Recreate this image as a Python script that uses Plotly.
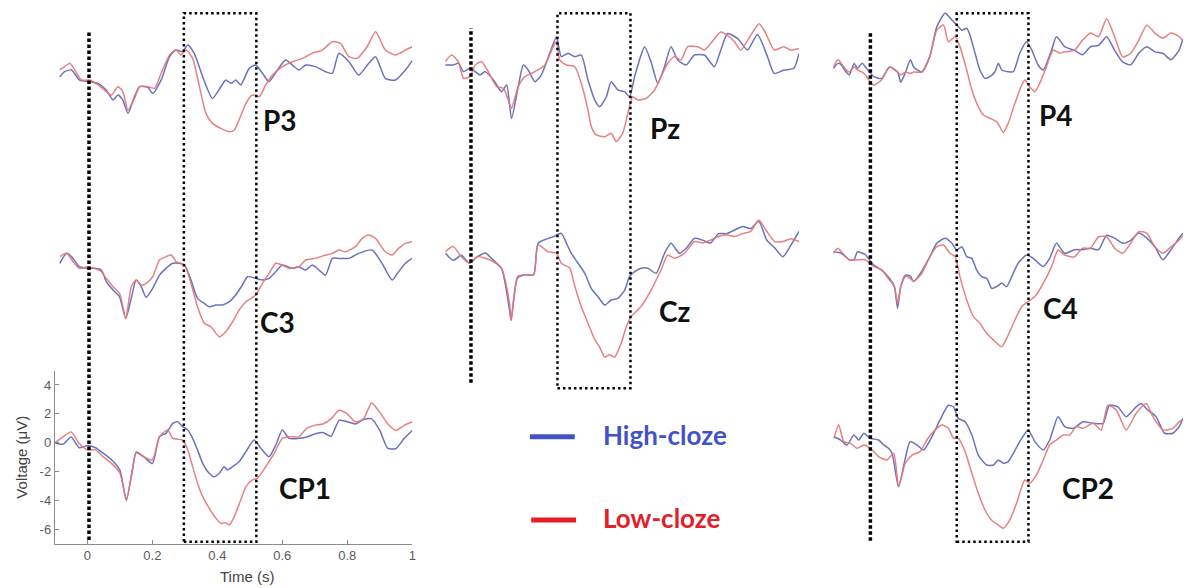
import plotly.graph_objects as go

# ---------------- data (time in s, voltage in µV) ----------------
P3_t_high = [-0.085,-0.07,-0.049,-0.024,0.007,0.033,0.058,0.079,0.094,0.109,0.125,0.145,0.161,0.186,0.201,0.227,0.253,0.273,0.293,0.309,0.329,0.355,0.385,0.411,0.426,0.442,0.457,0.472,0.498,0.518,0.539,0.559,0.585,0.61,0.631,0.651,0.672,0.702,0.733,0.754,0.774,0.805,0.835,0.866,0.887,0.917,0.948,0.979,1.0]
P3_high = [-0.12,0.23,0.35,-0.35,-0.46,-0.58,-1.04,-1.73,-1.39,-1.73,-2.66,-1.5,-0.81,-0.85,-1.27,-0.35,1.27,1.73,1.62,2.08,1.5,-0.12,-1.62,-0.81,-0.35,-0.58,-0.35,-0.69,0.46,0.69,0.12,-0.46,0.35,1.04,0.69,0.35,0.69,0.58,0.23,0.12,1.5,0.92,0.0,0.81,1.27,-0.23,-0.35,0.35,1.0]
P3_t_low = [-0.085,-0.07,-0.054,-0.039,-0.018,0.007,0.033,0.058,0.074,0.094,0.109,0.125,0.145,0.161,0.186,0.207,0.227,0.253,0.273,0.288,0.304,0.324,0.345,0.365,0.385,0.411,0.437,0.452,0.467,0.488,0.508,0.529,0.549,0.57,0.6,0.631,0.662,0.692,0.723,0.754,0.779,0.805,0.83,0.861,0.887,0.917,0.948,0.979,1.0]
P3_low = [0.35,0.58,0.81,0.35,-0.35,-0.35,-0.69,-1.15,-1.39,-0.81,-1.15,-2.42,-1.62,-0.81,-0.81,-0.92,0.12,1.39,1.73,1.39,1.73,1.15,-0.81,-2.66,-3.35,-3.7,-3.93,-3.81,-3.12,-1.96,-1.39,-1.5,-0.69,0.0,0.58,0.92,1.15,1.5,1.73,2.31,2.19,1.27,1.15,1.96,3.0,1.73,1.39,1.73,1.96]

C3_t_high = [-0.085,-0.064,-0.049,-0.024,0.002,0.022,0.043,0.058,0.079,0.099,0.118,0.135,0.15,0.166,0.181,0.201,0.222,0.242,0.263,0.283,0.299,0.319,0.339,0.36,0.375,0.396,0.416,0.437,0.457,0.477,0.493,0.518,0.539,0.559,0.58,0.6,0.631,0.651,0.672,0.692,0.713,0.733,0.754,0.774,0.805,0.835,0.876,0.907,0.938,0.958,0.979,0.999]
C3_high = [-0.18,0.51,0.28,-0.42,-0.53,-0.53,-0.65,-1.45,-2.03,-2.5,-4.0,-2.61,-1.34,-1.8,-2.54,-1.92,-1.0,-0.53,-0.18,-0.18,-0.3,-1.34,-2.61,-2.96,-3.19,-3.07,-3.07,-2.84,-2.36,-1.69,-1.11,-1.22,-1.34,-1.22,-0.76,-0.3,-0.53,-0.42,-0.65,-0.3,-0.65,-1.0,0.16,0.16,0.16,0.51,0.74,-0.18,-1.34,-0.76,-0.18,0.16]
C3_t_low = [-0.085,-0.064,-0.044,-0.024,0.002,0.022,0.043,0.058,0.079,0.099,0.118,0.135,0.15,0.166,0.181,0.201,0.222,0.242,0.258,0.273,0.299,0.319,0.339,0.36,0.38,0.406,0.426,0.447,0.467,0.488,0.518,0.539,0.559,0.58,0.6,0.621,0.651,0.672,0.702,0.733,0.754,0.774,0.794,0.825,0.846,0.866,0.887,0.917,0.938,0.958,0.979,0.999]
C3_low = [0.28,0.51,-0.07,-0.53,-0.42,-0.53,-0.76,-1.22,-1.8,-2.27,-4.0,-1.8,-1.34,-1.69,-1.57,-1.11,0.05,0.28,0.39,-0.07,-0.3,-1.57,-3.19,-4.34,-4.57,-5.27,-4.92,-4.23,-3.42,-2.84,-2.38,-1.57,-0.88,-0.18,-0.3,-0.53,-0.42,0.05,0.16,0.39,0.51,0.74,0.62,0.97,1.55,1.78,1.55,0.62,0.39,0.85,1.2,1.32]

CP1_t_high = [-0.1,-0.075,-0.05,-0.025,0,0.025,0.05,0.075,0.1,0.12,0.14,0.15,0.175,0.2,0.222,0.242,0.263,0.278,0.293,0.309,0.324,0.339,0.355,0.375,0.39,0.406,0.421,0.431,0.447,0.467,0.488,0.513,0.534,0.559,0.58,0.6,0.621,0.65,0.675,0.7,0.725,0.75,0.775,0.8,0.825,0.85,0.875,0.9,0.925,0.95,0.975,1.0]
CP1_high = [0,-0.1,0.4,-0.35,-0.2,-0.35,-0.75,-1.2,-1.9,-4.0,-1.7,-0.65,-1.0,-1.45,0.42,0.65,1.34,1.46,1.11,0.88,0.3,-0.51,-1.43,-2.12,-2.36,-2.12,-1.66,-1.89,-1.66,-1.32,-0.62,0.19,-0.39,-0.97,-0.16,0.88,0.3,0.3,0.4,0.6,0.7,0.45,1.55,1.45,1.3,1.6,1.65,0.85,-0.4,-0.4,0.3,0.85]
CP1_t_low = [-0.1,-0.075,-0.05,-0.025,0,0.025,0.05,0.075,0.1,0.12,0.14,0.15,0.175,0.2,0.222,0.247,0.263,0.293,0.309,0.324,0.339,0.355,0.375,0.396,0.411,0.426,0.437,0.452,0.472,0.488,0.508,0.523,0.549,0.575,0.6,0.621,0.65,0.675,0.7,0.725,0.75,0.775,0.8,0.825,0.85,0.875,0.9,0.925,0.95,0.975,1.0]
CP1_low = [0,0.4,0.75,-0.05,-0.5,-0.5,-1.0,-1.45,-2.1,-3.9,-1.7,-0.7,-1.0,-1.2,0.42,0.88,0.3,0.19,-0.51,-1.66,-2.81,-3.74,-4.55,-5.24,-5.59,-5.54,-5.7,-5.13,-3.97,-3.05,-2.58,-2.47,-1.66,-0.74,0.3,0.42,0.4,1.0,1.2,1.3,1.65,2.25,2.0,1.45,1.65,2.75,2.1,1.3,0.85,1.2,1.45]

Pz_t_high = [-0.1,-0.074,-0.059,-0.043,-0.023,-0.007,0.008,0.024,0.05,0.075,0.091,0.106,0.127,0.143,0.158,0.179,0.199,0.225,0.246,0.261,0.282,0.303,0.323,0.344,0.365,0.38,0.401,0.416,0.437,0.458,0.473,0.489,0.504,0.52,0.54,0.561,0.582,0.602,0.623,0.649,0.675,0.706,0.737,0.757,0.778,0.809,0.84,0.871,0.902,0.923,0.953,0.984,1.0]
Pz_high = [0.07,0.07,0.19,-0.39,-0.16,-0.39,-0.62,-0.39,-0.97,-1.78,-1.32,-3.63,-1.43,0.07,-0.28,-1.09,-0.62,0.88,2.03,0.65,0.88,0.65,0.76,-0.97,-2.36,-2.82,-2.13,-1.09,-1.66,-1.78,-2.13,-0.74,0.42,1.34,0.3,-1.2,-0.05,1.34,0.42,0.07,0.76,0.76,-0.05,1.11,2.25,1.91,1.11,2.19,0.65,-0.51,-0.28,-0.16,0.88]
Pz_t_low = [-0.1,-0.08,-0.059,-0.043,-0.023,-0.007,0.013,0.034,0.06,0.081,0.096,0.106,0.127,0.148,0.179,0.21,0.236,0.246,0.256,0.277,0.303,0.323,0.344,0.354,0.37,0.396,0.416,0.432,0.452,0.468,0.483,0.499,0.525,0.551,0.571,0.592,0.613,0.633,0.654,0.685,0.706,0.726,0.757,0.778,0.799,0.819,0.85,0.876,0.897,0.923,0.953,0.974,1.0]
Pz_low = [0.3,0.76,0.3,-0.85,-0.74,0.07,0.3,-0.39,-1.43,-1.55,-2.36,-2.93,-1.43,-0.74,-0.39,0.07,1.34,1.69,0.42,0.07,-0.05,-1.2,-3.05,-4.2,-4.78,-4.9,-4.66,-5.24,-4.66,-3.28,-2.13,-2.36,-2.24,-1.66,-0.74,0.19,0.65,0.42,1.34,1.34,1.11,1.57,2.36,2.13,1.69,1.11,2.13,2.93,2.25,1.11,1.34,1.11,1.22]

Cz_t_high = [-0.1,-0.075,-0.05,-0.025,0,0.025,0.05,0.075,0.1,0.105,0.125,0.15,0.175,0.189,0.236,0.261,0.277,0.292,0.313,0.334,0.354,0.375,0.396,0.416,0.437,0.458,0.473,0.489,0.509,0.53,0.556,0.582,0.602,0.628,0.649,0.675,0.7,0.725,0.75,0.775,0.8,0.825,0.85,0.875,0.9,0.925,0.95,0.975,1.0]
Cz_high = [0.2,-0.3,0.05,-0.5,-0.05,0.2,-0.3,-0.85,-3.75,-4.45,-1.45,-1.3,-1.3,0.88,1.34,1.57,0.88,0.19,-0.5,-1.2,-2.24,-2.82,-3.4,-3.05,-2.93,-2.36,-1.43,-1.09,-0.85,-0.85,-1.2,0.19,0.88,0.19,0.53,1.22,1.1,0.9,1.55,1.55,1.8,2.05,1.9,2.4,1.1,0.55,-0.05,0.75,1.7]
Cz_t_low = [-0.1,-0.075,-0.05,-0.025,0,0.025,0.05,0.075,0.1,0.105,0.125,0.15,0.175,0.189,0.22,0.246,0.261,0.287,0.303,0.323,0.344,0.365,0.38,0.396,0.411,0.427,0.447,0.463,0.478,0.509,0.54,0.571,0.592,0.613,0.644,0.675,0.7,0.725,0.75,0.775,0.8,0.825,0.85,0.875,0.9,0.925,0.95,0.975,1.0]
Cz_low = [0.3,0.65,-0.05,-0.5,-0.05,-0.15,-0.4,-0.85,-3.3,-4.45,-1.55,-1.3,-1.3,0.76,0.3,0.19,-0.5,-0.83,-2.1,-3.5,-4.66,-5.8,-6.3,-7.0,-6.85,-7.0,-6.05,-4.9,-4.2,-3.5,-2.36,-0.97,0.07,-0.16,0.19,1.0,0.9,1.1,1.35,1.45,1.35,1.55,1.7,2.5,1.7,1.0,1.0,1.2,1.0]

P4_t_high = [-0.1,-0.085,-0.075,-0.06,-0.05,-0.035,-0.025,-0.01,0,0.025,0.05,0.075,0.1,0.11,0.125,0.14,0.15,0.175,0.2,0.222,0.248,0.269,0.284,0.3,0.315,0.325,0.341,0.356,0.372,0.387,0.403,0.413,0.424,0.444,0.46,0.48,0.501,0.517,0.537,0.553,0.579,0.594,0.62,0.65,0.675,0.7,0.725,0.75,0.775,0.8,0.825,0.85,0.875,0.9,0.925,0.95,0.975,0.987]
P4_high = [-0.05,0.3,0.2,-0.3,-0.5,0.3,-0.05,0.3,0.05,-0.6,-0.75,0.05,-0.3,-1.0,-0.3,0.55,0.05,-0.3,0.75,2.84,3.77,3.3,2.96,2.6,2.73,2.27,1.0,-0.16,-0.74,-0.62,-0.28,0.3,-0.16,-0.28,-0.28,1.0,1.8,1.23,0.19,-0.16,1.23,2.15,1.46,1.2,0.9,1.45,1.55,2.15,1.2,0.4,0.2,1.0,1.45,1.1,1.0,0.55,1.2,2.0]
P4_t_low = [-0.1,-0.085,-0.075,-0.06,-0.05,-0.035,-0.025,-0.01,0,0.025,0.05,0.075,0.1,0.11,0.125,0.14,0.15,0.175,0.2,0.222,0.243,0.258,0.279,0.294,0.315,0.331,0.351,0.367,0.387,0.408,0.418,0.429,0.444,0.465,0.486,0.496,0.511,0.527,0.542,0.563,0.584,0.604,0.62,0.65,0.675,0.7,0.725,0.75,0.775,0.8,0.825,0.85,0.875,0.9,0.925,0.95,0.975,0.987]
P4_low = [0.05,0.55,0.3,-0.15,-0.3,0.05,-0.15,-0.3,-0.5,-1.2,-0.85,0.05,-0.3,-0.5,-0.3,-0.4,-0.3,-0.3,0.75,2.6,2.96,1.8,2.15,1.46,-0.16,-1.55,-2.7,-3.28,-3.5,-3.74,-4.09,-4.5,-3.85,-2.47,-1.2,-0.85,-1.32,-1.66,-1.08,0.07,1.23,1.0,1.11,1.2,1.9,2.4,2.15,3.4,2.15,0.75,1.0,1.9,2.95,2.4,2.05,2.4,2.15,1.9]

C4_t_high = [-0.1,-0.075,-0.05,-0.035,-0.025,0,0.025,0.05,0.075,0.09,0.1,0.11,0.125,0.14,0.15,0.175,0.2,0.222,0.248,0.269,0.284,0.3,0.315,0.331,0.346,0.362,0.377,0.393,0.408,0.424,0.439,0.455,0.475,0.501,0.522,0.553,0.573,0.594,0.62,0.65,0.675,0.7,0.725,0.75,0.775,0.8,0.825,0.85,0.875,0.9,0.925,0.95,0.975,0.987]
C4_high = [0.1,0,-0.45,-0.45,0.1,-0.1,-0.8,-1.15,-1.75,-2.3,-3.8,-2.3,-1.5,-1.6,-1.95,-1.25,-0.25,0.69,1.04,0.69,0.23,0.46,-0.23,-0.35,-1.16,-1.62,-1.73,-2.43,-2.31,-2.08,-2.31,-1.62,-0.69,-0.12,-0.35,-0.92,-0.35,0.69,0,0.25,0.25,0.35,0.25,1.25,1.05,0.7,0.9,1.4,1.05,0.45,-0.45,0.25,1.05,1.4]
C4_t_low = [-0.1,-0.085,-0.075,-0.05,-0.025,0,0.025,0.05,0.075,0.09,0.1,0.11,0.125,0.14,0.15,0.175,0.2,0.222,0.243,0.263,0.279,0.294,0.315,0.336,0.356,0.377,0.398,0.424,0.444,0.465,0.486,0.506,0.527,0.553,0.579,0.599,0.62,0.65,0.675,0.7,0.725,0.75,0.775,0.8,0.825,0.85,0.875,0.9,0.925,0.95,0.975,0.987]
C4_low = [0,0.35,0.1,-0.45,-0.45,-0.45,-0.9,-1.15,-1.85,-2.3,-3.45,-2.3,-1.6,-1.75,-1.95,-1.4,-0.25,0.46,0.58,0,-0.23,-1.62,-3.24,-4.39,-4.85,-5.54,-6.0,-6.47,-5.66,-4.62,-3.7,-3.35,-3.0,-2.08,-0.92,0.23,-0.12,-0.25,0.35,0.35,1.15,1.15,0.35,0,0.7,1.5,1.4,0.45,0,0.45,0.9,1.25]

CP2_t_high = [-0.098,-0.077,-0.057,-0.036,-0.021,-0.005,0.015,0.041,0.057,0.072,0.083,0.103,0.124,0.139,0.16,0.181,0.207,0.232,0.258,0.274,0.289,0.31,0.331,0.351,0.377,0.398,0.413,0.429,0.444,0.46,0.48,0.506,0.527,0.553,0.573,0.599,0.62,0.646,0.677,0.708,0.739,0.759,0.785,0.811,0.842,0.857,0.878,0.904,0.93,0.956,0.976,0.987]
CP2_high = [0.18,-0.05,-0.39,0.3,-0.05,0.42,0.07,-0.05,-0.39,-0.62,-0.97,-3.28,-1.32,-0.16,-0.39,-0.74,0.18,1.34,2.36,2.25,1.45,1.22,0.3,-1.09,-1.78,-1.78,-1.43,-1.66,-1.55,-0.97,-0.16,0.65,-0.16,-0.74,-0.05,1.57,0.88,0.76,1.22,1.11,1.11,2.36,2.25,1.57,2.25,2.48,2.03,1.57,0.42,0.42,0.88,1.45]
CP2_t_low = [-0.098,-0.083,-0.067,-0.046,-0.026,-0.005,0.015,0.041,0.067,0.088,0.103,0.124,0.145,0.17,0.191,0.217,0.238,0.258,0.274,0.289,0.31,0.331,0.351,0.372,0.392,0.413,0.429,0.449,0.47,0.496,0.511,0.532,0.553,0.573,0.594,0.615,0.635,0.656,0.677,0.708,0.733,0.754,0.78,0.811,0.842,0.873,0.894,0.925,0.956,0.976,0.987]
CP2_low = [0.07,0.99,-0.16,-0.28,-0.62,-0.39,-0.62,-1.2,-1.43,-0.97,-3.28,-1.66,-1.09,-0.85,-0.05,0.65,0.99,0.76,0.07,0.07,-0.85,-2.36,-3.74,-4.9,-5.59,-5.94,-6.17,-5.59,-4.43,-2.82,-3.05,-2.47,-1.43,-0.39,-0.05,0.3,0.3,0.88,0.76,1.11,0.65,2.36,2.03,0.65,1.8,2.48,1.57,0.65,0.76,1.22,1.34]

# window markers per column: stimulus onset and N400 window (s)
ONSET = [0.005, -0.02, 0.0155]
WIN_START = [0.297, 0.249, 0.284]
WIN_END = [0.52, 0.476, 0.507]

LEGEND_NAMES = ["High-cloze", "Low-cloze"]
X_TICKS = [0, 0.2, 0.4, 0.6, 0.8, 1]
X_TICKTEXT = ["0", "0.2", "0.4", "0.6", "0.8", "1"]
Y_TICKS = [-6, -4, -2, 0, 2, 4]
Y_TICKTEXT = ["-6", "-4", "-2", "0", "2", "4"]

# ---------------- layout geometry (pixels) ----------------
W, H = 1187, 588
PXUV = 14.43
COLS = [dict(px0=87.67, pps=326.0), dict(px0=479.0, pps=322.67), dict(px0=868.33, pps=322.67)]
PANELS = [
    dict(name="P3", col=0, base=75.0, th=P3_t_high, h=P3_high, tl=P3_t_low, l=P3_low, lab=(281, 120)),
    dict(name="C3", col=0, base=260.7, th=C3_t_high, h=C3_high, tl=C3_t_low, l=C3_low, lab=(278, 322)),
    dict(name="CP1", col=0, base=442.7, th=CP1_t_high, h=CP1_high, tl=CP1_t_low, l=CP1_low, lab=(306, 488)),
    dict(name="Pz", col=1, base=66.0, th=Pz_t_high, h=Pz_high, tl=Pz_t_low, l=Pz_low, lab=(667, 128)),
    dict(name="Cz", col=1, base=256.0, th=Cz_t_high, h=Cz_high, tl=Cz_t_low, l=Cz_low, lab=(677, 311)),
    dict(name="P4", col=2, base=67.7, th=P4_t_high, h=P4_high, tl=P4_t_low, l=P4_low, lab=(1060, 115)),
    dict(name="C4", col=2, base=253.3, th=C4_t_high, h=C4_high, tl=C4_t_low, l=C4_low, lab=(1064, 308)),
    dict(name="CP2", col=2, base=439.3, th=CP2_t_high, h=CP2_high, tl=CP2_t_low, l=CP2_low, lab=(1092, 488)),
]
BLUE = "rgba(92,102,186,0.92)"
RED = "rgba(228,118,118,0.92)"

def px2py(p):
    return 1 - p / H

fig = go.Figure()
layout = dict(width=W, height=H, margin=dict(l=0, r=0, t=0, b=0),
              paper_bgcolor="white", plot_bgcolor="rgba(0,0,0,0)", showlegend=False)
col_xref = {}
annotations = []
shapes = []
for i, p in enumerate(PANELS, start=1):
    sfx = "" if i == 1 else str(i)
    c = COLS[p["col"]]
    tmax = min(1.0, (W - c["px0"]) / c["pps"])
    xd0 = (c["px0"] - 0.1 * c["pps"]) / W
    xd1 = min(1.0, (c["px0"] + tmax * c["pps"]) / W)
    if p["name"] == "CP1":
        ylo, yhi = -7, 5
    else:
        ylo, yhi = -8, min(6, p["base"] / PXUV - 0.01)
    yd0 = max(0.0, px2py(p["base"] - ylo * PXUV))
    yd1 = min(1.0, px2py(p["base"] - yhi * PXUV))
    show = p["name"] == "CP1"
    xa = dict(domain=[xd0, xd1], range=[-0.1, tmax], anchor="y" + sfx, showgrid=False, zeroline=False,
              visible=show)
    ya = dict(domain=[yd0, yd1], range=[ylo, yhi], anchor="x" + sfx, showgrid=False, zeroline=False,
              visible=show)
    if show:
        axfont = dict(family="Liberation Sans, Arial, sans-serif", size=13, color="#5a5a5a")
        xa.update(showline=True, linecolor="#8c8c8c", linewidth=1.2, ticks="inside", ticklen=4,
                  tickcolor="#8c8c8c", tickvals=X_TICKS, ticktext=X_TICKTEXT, tickfont=axfont)
        ya.update(showline=True, linecolor="#8c8c8c", linewidth=1.2, ticks="inside", ticklen=4,
                  tickcolor="#8c8c8c", tickvals=Y_TICKS, ticktext=Y_TICKTEXT, tickfont=axfont)
    layout["xaxis" + sfx] = xa
    layout["yaxis" + sfx] = ya
    col_xref.setdefault(p["col"], "x" + sfx)
    fig.add_trace(go.Scatter(x=p["th"], y=p["h"], mode="lines", name=LEGEND_NAMES[0],
                             line=dict(color=BLUE, width=1.5, shape="spline", smoothing=0.6),
                             xaxis="x" + sfx, yaxis="y" + sfx, hoverinfo="skip"))
    fig.add_trace(go.Scatter(x=p["tl"], y=p["l"], mode="lines", name=LEGEND_NAMES[1],
                             line=dict(color=RED, width=1.5, shape="spline", smoothing=0.6),
                             xaxis="x" + sfx, yaxis="y" + sfx, hoverinfo="skip"))
    annotations.append(dict(text="<b>%s</b>" % p["name"], x=p["lab"][0] / W, y=px2py(p["lab"][1]),
                            xref="paper", yref="paper", showarrow=False, xanchor="center", yanchor="middle",
                            font=dict(family="Lato, Open Sans, sans-serif", size=28, color="#111111")))

# dotted onset lines and N400 windows
ONSET_Y = [(30, 540), (28.3, 382.7), (33.3, 540.7)]
BOX_Y = [(13.3, 541.7), (13.3, 388.3), (13.3, 541.7)]
for ci in range(3):
    xr = col_xref[ci]
    y0, y1 = ONSET_Y[ci]
    shapes.append(dict(type="line", xref=xr, yref="paper", x0=ONSET[ci], x1=ONSET[ci],
                       y0=px2py(y1), y1=px2py(y0), line=dict(color="black", width=3.5, dash="3.5px,2.5px")))
    b0, b1 = BOX_Y[ci]
    shapes.append(dict(type="rect", xref=xr, yref="paper", x0=WIN_START[ci], x1=WIN_END[ci],
                       y0=px2py(b1), y1=px2py(b0), line=dict(color="black", width=2.5, dash="2.5px,3px"),
                       fillcolor="rgba(0,0,0,0)"))

# legend (manual)
shapes.append(dict(type="line", xref="paper", yref="paper", x0=531.7 / W, x1=576.7 / W,
                   y0=px2py(436.7), y1=px2py(436.7), line=dict(color="#4453c4", width=5)))
shapes.append(dict(type="line", xref="paper", yref="paper", x0=533 / W, x1=578 / W,
                   y0=px2py(520), y1=px2py(520), line=dict(color="#e3202a", width=5)))
annotations.append(dict(text="<b>%s</b>" % LEGEND_NAMES[0], x=603 / W, y=px2py(435), xref="paper", yref="paper",
                        showarrow=False, xanchor="left", yanchor="middle",
                        font=dict(family="Lato, Open Sans, sans-serif", size=26, color="#4453c4")))
annotations.append(dict(text="<b>%s</b>" % LEGEND_NAMES[1], x=603 / W, y=px2py(518), xref="paper", yref="paper",
                        showarrow=False, xanchor="left", yanchor="middle",
                        font=dict(family="Lato, Open Sans, sans-serif", size=26, color="#e3202a")))

# axis titles for the CP1 panel
annotations.append(dict(text="Time (s)", x=248 / W, y=px2py(576.7), xref="paper", yref="paper",
                        showarrow=False, xanchor="center", yanchor="middle",
                        font=dict(family="Liberation Sans, Arial, sans-serif", size=15, color="#444444")))
annotations.append(dict(text="Voltage (μV)", x=22 / W, y=px2py(456.7), xref="paper", yref="paper",
                        showarrow=False, xanchor="center", yanchor="middle", textangle=-90,
                        font=dict(family="Liberation Sans, Arial, sans-serif", size=15, color="#444444")))

layout["shapes"] = shapes
layout["annotations"] = annotations
fig.update_layout(**layout)
fig.write_html("out.html", config={"displayModeBar": False},
               post_script="document.body.style.margin='0';document.body.style.padding='0';"
                           "document.body.style.overflow='hidden';")
